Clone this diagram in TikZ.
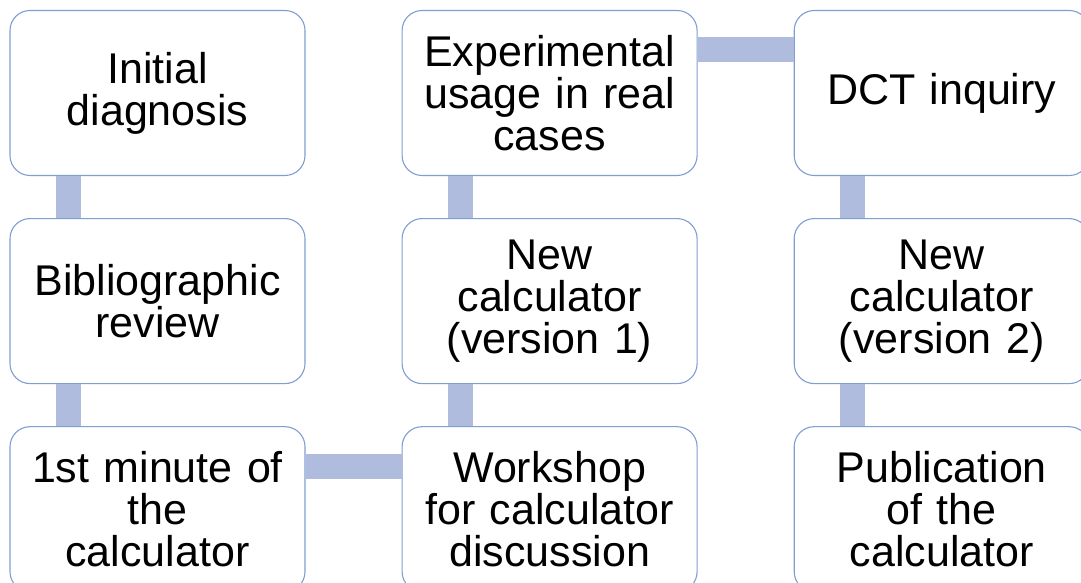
\documentclass[tikz,border=0pt]{standalone}
\usepackage{fontspec}
\setmainfont{Liberation Sans}
\usepackage{tikz}
\usetikzlibrary{calc}
\usetikzlibrary{positioning}
\definecolor{boxline}{RGB}{128,158,210}
\definecolor{barblue}{RGB}{176,188,222}
\tikzset{
	stagebox/.style={draw=boxline,fill=white,line width=1.1pt,rounded corners=20pt,
		minimum width=295pt,minimum height=165pt,text width=285pt,align=center,
		inner sep=0pt,font=\fontsize{43}{42}\selectfont},
	linkbar/.style={draw=barblue,line width=25pt},
}

\begin{document}
\begin{tikzpicture}[x=1pt,y=1pt,node distance=42pt and 96pt]
	\useasboundingbox (0,0) rectangle (1081,583);
	
	% first column
	\node[stagebox] (diag) at (157.5,490) {Initial\\diagnosis};
	\node[stagebox,below=of diag] (biblio) {Bibliographic\\review};
	\node[stagebox,below=of biblio] (minute) {1st minute of\\the\\calculator};
	
	% second column
	\node[stagebox,right=of minute] (workshop) {Workshop\\for calculator\\discussion};
	\node[stagebox,above=of workshop] (newone) {New\\calculator\\(version 1)};
	\node[stagebox,above=of newone] (exper) {Experimental\\usage in real\\cases};
	
	% third column
	\node[stagebox,right=of exper] (dct) {DCT inquiry};
	\node[stagebox,below=of dct] (newtwo) {New\\calculator\\(version 2)};
	\node[stagebox,below=of newtwo] (publ) {Publication\\of the\\calculator};
	
	% links
	\draw[linkbar] ($(diag.south west)!0.2!(diag.south east)$) -- ($(biblio.north west)!0.2!(biblio.north east)$);
	\draw[linkbar] ($(biblio.south west)!0.2!(biblio.south east)$) -- ($(minute.north west)!0.2!(minute.north east)$);
	\draw[linkbar] ($(minute.north east)!0.24!(minute.south east)$) -- ($(workshop.north west)!0.24!(workshop.south west)$);
	\draw[linkbar] ($(workshop.north west)!0.2!(workshop.north east)$) -- ($(newone.south west)!0.2!(newone.south east)$);
	\draw[linkbar] ($(newone.north west)!0.2!(newone.north east)$) -- ($(exper.south west)!0.2!(exper.south east)$);
	\draw[linkbar] ($(exper.north east)!0.24!(exper.south east)$) -- ($(dct.north west)!0.24!(dct.south west)$);
	\draw[linkbar] ($(dct.south west)!0.2!(dct.south east)$) -- ($(newtwo.north west)!0.2!(newtwo.north east)$);
	\draw[linkbar] ($(newtwo.south west)!0.2!(newtwo.south east)$) -- ($(publ.north west)!0.2!(publ.north east)$);
\end{tikzpicture}
\end{document}
